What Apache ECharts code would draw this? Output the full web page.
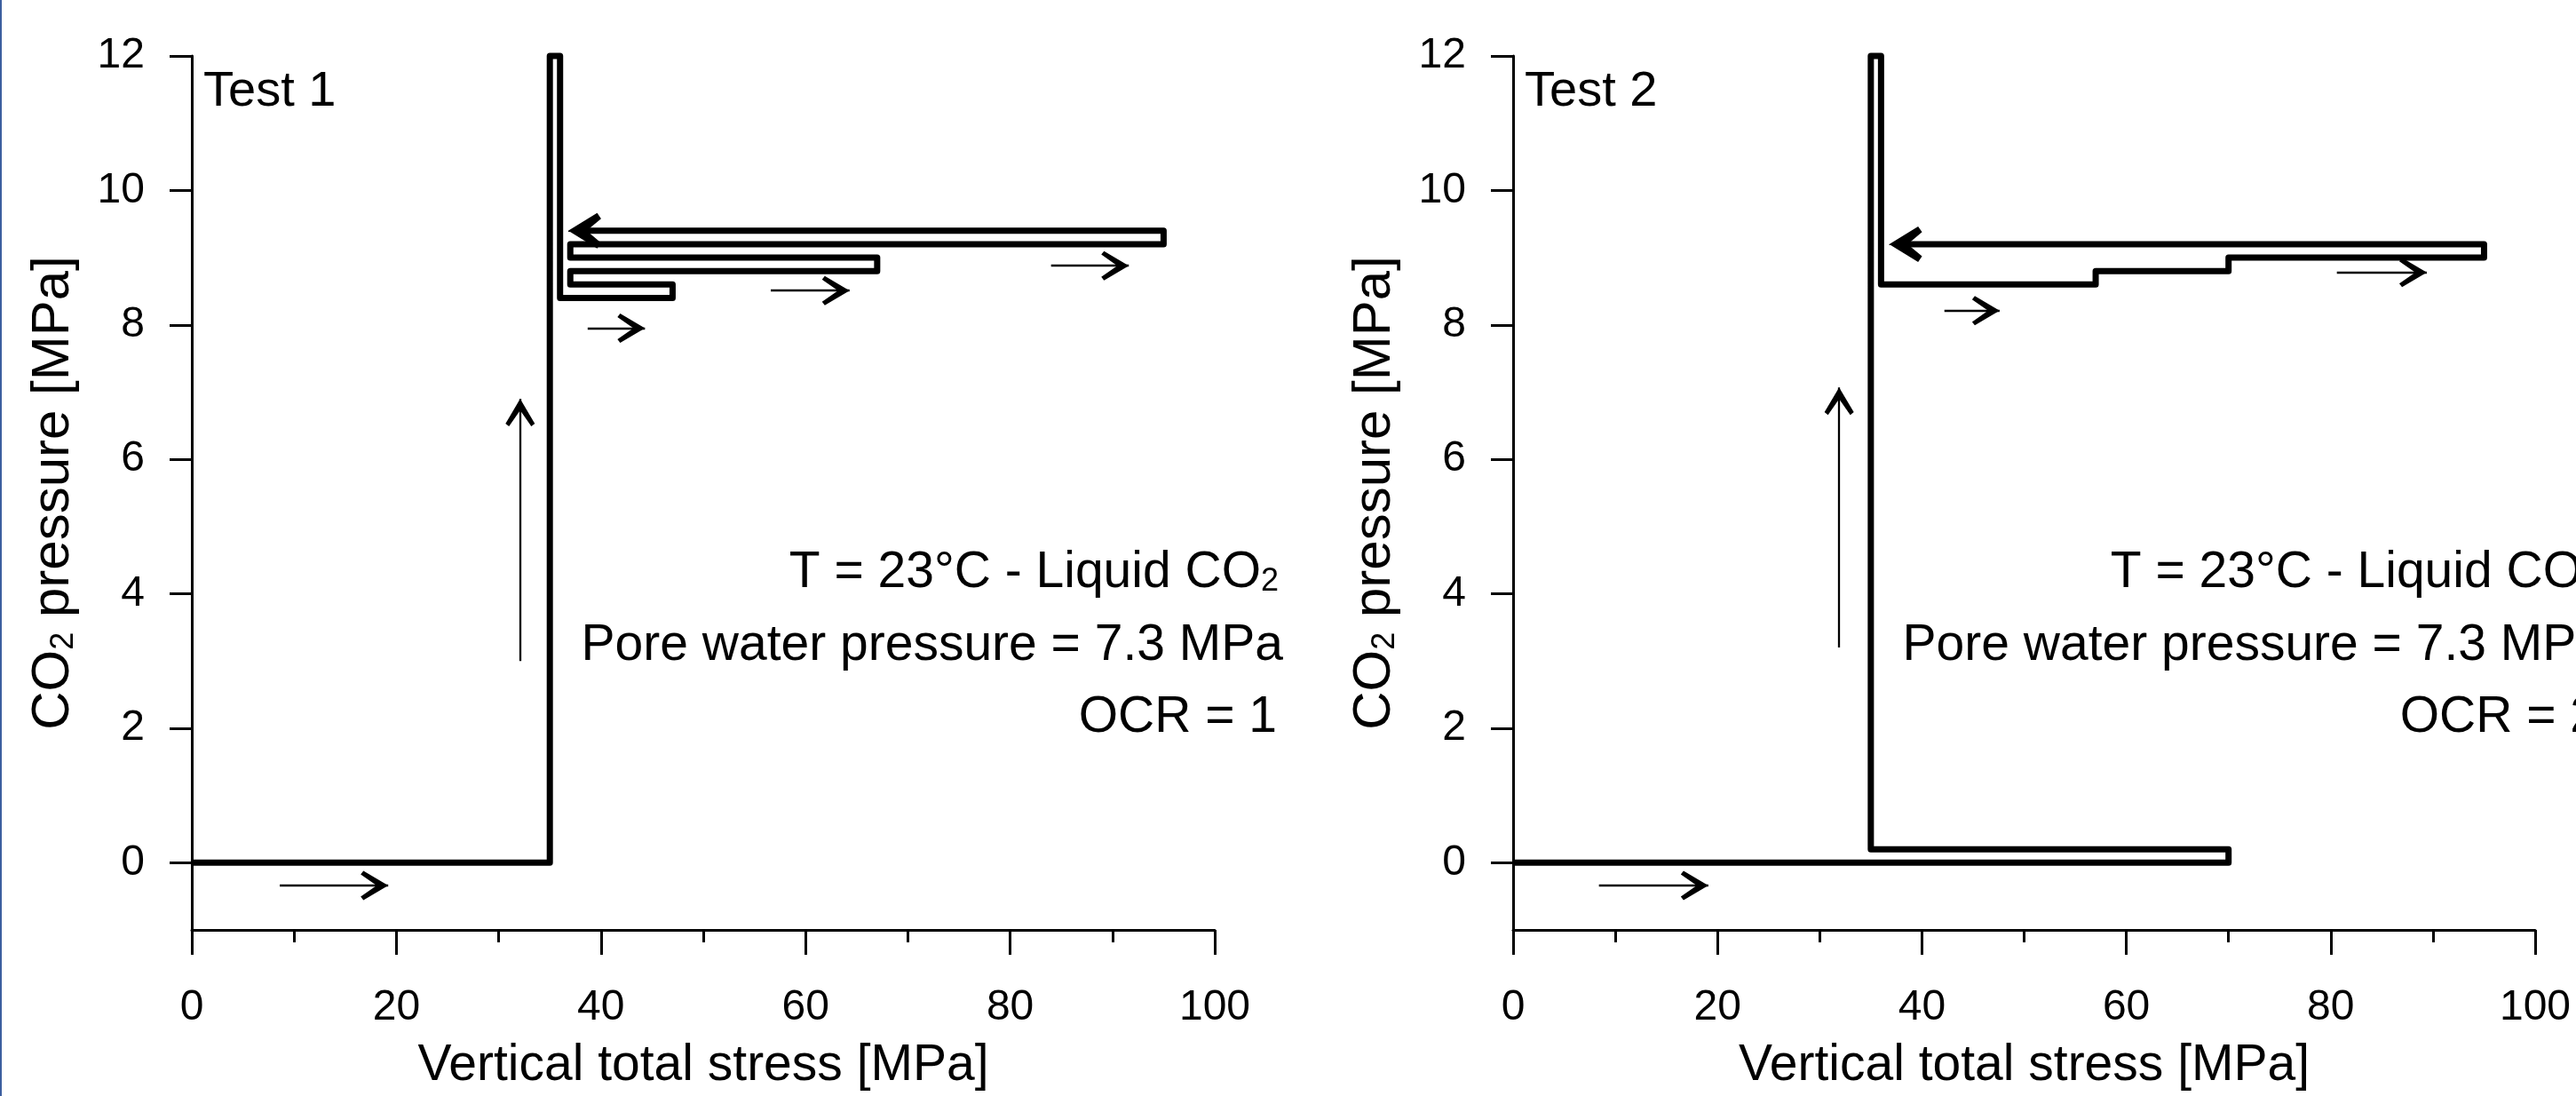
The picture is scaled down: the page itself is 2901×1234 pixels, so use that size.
<!DOCTYPE html>
<html>
<head>
<meta charset="utf-8">
<script src="https://cdn.jsdelivr.net/npm/echarts@6/dist/echarts.min.js"></script>
<style>
html,body{margin:0;padding:0;background:#fff;}
#chart{width:2901px;height:1234px;}
</style>
</head>
<body>
<div id="chart"></div>
<script>
// ---------- data ----------
const xTicks = [0, 20, 40, 60, 80, 100];
const yTicks = [0, 2, 4, 6, 8, 10, 12];

// Test 1 loading path: vertical total stress [MPa] vs CO2 pressure [MPa]
const test1Stress   = [0, 35, 35, 36, 36,  47,  47,  37,  37,  67,  67,  37,  37,  95,  95, 37.5];
const test1Pressure = [0,  0, 12, 12, 8.4, 8.4, 8.6, 8.6, 8.8, 8.8, 9.0, 9.0, 9.2, 9.2, 9.4, 9.4];

// Test 2 loading path
const test2Stress   = [0, 70, 70,  35,  35, 36, 36,  57,  57,  70,  70,  95,  95, 37.5];
const test2Pressure = [0,  0, 0.2, 0.2, 12, 12, 8.6, 8.6, 8.8, 8.8, 9.0, 9.0, 9.2, 9.2];

// direction arrows [fromStress, fromPressure, toStress, toPressure]
const test1Arrows = [[8.6, -0.34, 19.2, -0.34], [32.1, 3.0, 32.1, 6.9], [38.7, 7.95, 44.3, 7.95], [56.6, 8.51, 64.3, 8.51], [84.0, 8.88, 91.6, 8.88]];
const test2Arrows = [[8.4, -0.34, 19.1, -0.34], [31.9, 3.2, 31.9, 7.07], [42.2, 8.21, 47.6, 8.21], [80.6, 8.78, 89.4, 8.78]];
// arrow heads at the end of the unloading paths
const test1EndArrow = [40, 9.4, 36.8, 9.4];
const test2EndArrow = [40, 9.2, 36.8, 9.2];

const panelLabels = ['Test 1', 'Test 2'];
const ocrValues = ['OCR = 1', 'OCR = 2'];

// ---------- styling ----------
const FONT = '"Liberation Sans", Arial, Helvetica, sans-serif';
const BLACK = '#000';
const thinHead = 'path://M50,0 L100,90 L88,100 L50,42 L12,100 L0,90 Z';
const thickHead = 'path://M50,0 L100,88 L84,100 L50,56 L16,100 L0,88 Z';

function pts(xs, ys) { return xs.map((x, i) => [x, ys[i]]); }
function arrowData(list, head, w, h) {
  return list.map(a => [
    {coord: [a[0], a[1]], symbol: 'none', symbolSize: 1},
    {coord: [a[2], a[3]], symbol: head, symbolSize: [w, h], symbolOffset: [0, h / 2]}
  ]);
}

const grids = [
  {left: 216, top: 63, width: 1152, height: 986},
  {left: 1704, top: 63, width: 1151, height: 986}
];

function makeX(g) {
  return {
    gridIndex: g, type: 'value', min: 0, max: 100, interval: 20,
    axisLine: {show: true, onZero: false, lineStyle: {color: BLACK, width: 3}},
    axisTick: {show: true, inside: false, length: 28, lineStyle: {color: BLACK, width: 3}},
    minorTick: {show: true, splitNumber: 2, length: 14, lineStyle: {color: BLACK, width: 3}},
    splitLine: {show: false}, minorSplitLine: {show: false},
    axisLabel: {color: BLACK, fontSize: 48, fontFamily: FONT, margin: 64, customValues: xTicks},
    name: 'Vertical total stress [MPa]', nameLocation: 'middle', nameGap: 125,
    nameTextStyle: {color: BLACK, fontSize: 57, fontFamily: FONT}
  };
}
function makeY(g) {
  return {
    gridIndex: g, type: 'value', min: -1, max: 12, interval: 1,
    axisLine: {show: true, onZero: false, lineStyle: {color: BLACK, width: 3}},
    axisTick: {show: true, inside: false, length: 25, customValues: yTicks, lineStyle: {color: BLACK, width: 3}},
    splitLine: {show: false},
    axisLabel: {color: BLACK, fontSize: 48, fontFamily: FONT, margin: 53, customValues: yTicks},
    name: '{a|CO}{b|2}{a| pressure [MPa]}', nameLocation: 'middle', nameRotate: 90, nameGap: 126,
    nameTextStyle: {
      color: BLACK, fontSize: 60, fontFamily: FONT,
      rich: {
        a: {fontSize: 60, fontFamily: FONT, color: BLACK},
        b: {fontSize: 36, fontFamily: FONT, color: BLACK, lineHeight: 30, verticalAlign: 'bottom'}
      }
    }
  };
}

function pathSeries(g, xs, ys, endArrow) {
  return {
    type: 'line', xAxisIndex: g, yAxisIndex: g, color: BLACK,
    data: pts(xs, ys), showSymbol: false, symbol: 'none', clip: false, silent: true,
    lineStyle: {color: BLACK, width: 7, join: 'round'},
    markLine: {
      silent: true, animation: false, symbol: 'none',
      label: {show: false}, emphasis: {disabled: true},
      itemStyle: {color: BLACK},
      lineStyle: {color: BLACK, width: 1, type: 'solid'},
      data: arrowData([endArrow], thickHead, 40, 37)
    }
  };
}
function arrowSeries(g, list) {
  return {
    type: 'line', xAxisIndex: g, yAxisIndex: g, data: [], showSymbol: false, silent: true, color: BLACK,
    markLine: {
      silent: true, animation: false, symbol: 'none',
      label: {show: false}, emphasis: {disabled: true},
      itemStyle: {color: BLACK},
      lineStyle: {color: BLACK, width: 2.3, type: 'solid'},
      data: arrowData(list, thinHead, 33, 31)
    }
  };
}

function annotation(dx, ocr) {
  const rich = {
    a: {fontSize: 57, fontFamily: FONT, fill: BLACK, lineHeight: 57},
    b: {fontSize: 36, fontFamily: FONT, fill: BLACK, lineHeight: 25, verticalAlign: 'bottom'}
  };
  return [
    {type: 'text', x: 1440 + dx, y: 645, silent: true,
     style: {text: '{a|T = 23°C - Liquid CO}{b|2}', align: 'right', verticalAlign: 'middle', rich: rich, fill: BLACK}},
    {type: 'text', x: 1445 + dx, y: 727, silent: true,
     style: {text: 'Pore water pressure = 7.3 MPa', font: '57px ' + FONT, align: 'right', verticalAlign: 'middle', fill: BLACK}},
    {type: 'text', x: 1438 + dx, y: 808, silent: true,
     style: {text: ocr, font: '57px ' + FONT, align: 'right', verticalAlign: 'middle', fill: BLACK}}
  ];
}

const chart = echarts.init(document.getElementById('chart'), null, {renderer: 'canvas', width: 2901, height: 1234});
const option = {
  backgroundColor: '#fff',
  animation: false,
  grid: grids,
  xAxis: [makeX(0), makeX(1)],
  yAxis: [makeY(0), makeY(1)],
  series: [
    pathSeries(0, test1Stress, test1Pressure, test1EndArrow),
    arrowSeries(0, test1Arrows),
    pathSeries(1, test2Stress, test2Pressure, test2EndArrow),
    arrowSeries(1, test2Arrows)
  ],
  graphic: [
    {type: 'rect', shape: {x: 0, y: 0, width: 2, height: 1234}, style: {fill: '#3d5f9f'}, silent: true},
    {type: 'text', x: 229, y: 104, silent: true,
     style: {text: panelLabels[0], font: '56px ' + FONT, align: 'left', verticalAlign: 'middle', fill: BLACK}},
    {type: 'text', x: 1717, y: 104, silent: true,
     style: {text: panelLabels[1], font: '56px ' + FONT, align: 'left', verticalAlign: 'middle', fill: BLACK}}
  ].concat(annotation(0, ocrValues[0]), annotation(1488, ocrValues[1]))
};
chart.setOption(option);
</script>
</body>
</html>
